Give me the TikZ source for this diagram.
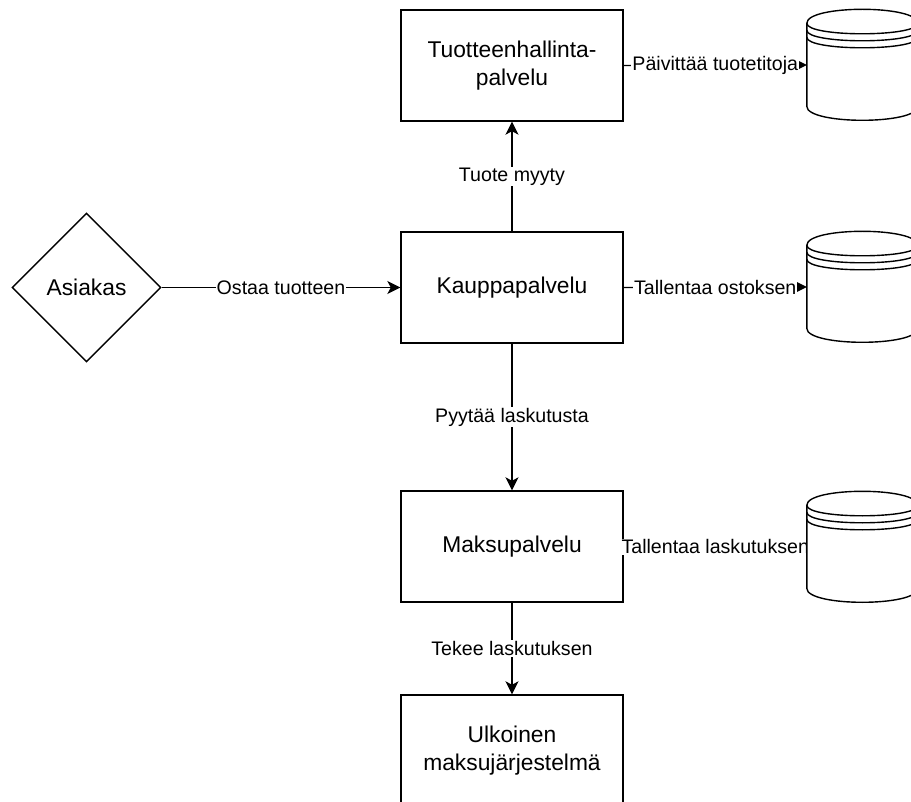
\documentclass[tikz,border=0pt]{standalone}
\usepackage{fontspec}
\setmainfont{Liberation Sans}
\usetikzlibrary{shapes.geometric,arrows.meta}

\tikzset{
  box/.style={draw, line width=1.4pt, fill=white, minimum width=222pt, minimum height=111pt,
    align=center, inner sep=0pt, font=\fontsize{22.8}{28}\selectfont},
  actor/.style={draw, diamond, line width=1.4pt, fill=white, minimum width=149pt, minimum height=149pt,
    inner sep=0pt, font=\fontsize{22.8}{28}\selectfont},
  dbnode/.style={minimum width=111pt, minimum height=111pt, inner sep=0pt},
  flow/.style={line width=1.4pt, -{Stealth[length=13pt, width=13pt, inset=3.5pt]}},
  flowlabel/.style={fill=white, inner sep=1pt, font=\fontsize{19.6}{22}\selectfont},
  dbline/.style={line width=1.4pt}
}

% data store drawn inside the frame of a named node (111 x 111, top curve depth 14)
\newcommand\dbdraw[1]{%
  \begin{scope}[shift={(#1.north west)}]
    \filldraw[dbline, fill=white] (0,14) .. controls (0,-4.667) and (111,-4.667) .. (111,14)
      -- (111,97) .. controls (111,115.667) and (0,115.667) .. (0,97) -- cycle;
    \draw[dbline] (0,14) .. controls (0,28) and (111,28) .. (111,14);
    \draw[dbline] (0,21) .. controls (0,35) and (111,35) .. (111,21);
    \draw[dbline] (0,28) .. controls (0,42) and (111,42) .. (111,28);
  \end{scope}}

\begin{document}
\begin{tikzpicture}[x=1pt, y=-1pt]
  \useasboundingbox (0,0) rectangle (911,802);
  \clip (0,0) rectangle (911,802);
  \fill[white] (0,0) rectangle (911,802);

  % services
  \node[box] (prod) at (512,65.5) {Tuotteenhallinta-\\palvelu};
  \node[box] (shop) at (512,287.5) {Kauppapalvelu};
  \node[box] (pay)  at (512,546.5) {Maksupalvelu};
  \node[box] (ext)  at (512,750.5) {Ulkoinen\\maksujärjestelmä};

  % customer
  \node[actor] (cust) at (86.5,287.5) {Asiakas};

  % data stores
  \node[dbnode] (db1) at (862.5,65) {};
  \node[dbnode] (db2) at (862.5,287) {};
  \node[dbnode] (db3) at (862.5,547) {};

  % flows
  \draw[flow] (cust.east) -- node[flowlabel] {Ostaa tuotteen} (shop.west);
  \draw[flow] (shop.north) -- node[flowlabel] {Tuote myyty} (prod.south);
  \draw[flow] (shop.south) -- node[flowlabel] {Pyytää laskutusta} (pay.north);
  \draw[flow] (pay.south) -- node[flowlabel] {Tekee laskutuksen} (ext.north);
  \draw[flow] (prod.east) -- node[flowlabel] {Päivittää tuotetitoja} (db1.west);
  \draw[flow] (shop.east) -- node[flowlabel] {Tallentaa ostoksen} (db2.west);
  \draw[flow] (pay.east) -- node[flowlabel] {Tallentaa laskutuksen} (db3.west);

  \dbdraw{db1}
  \dbdraw{db2}
  \dbdraw{db3}
\end{tikzpicture}
\end{document}
